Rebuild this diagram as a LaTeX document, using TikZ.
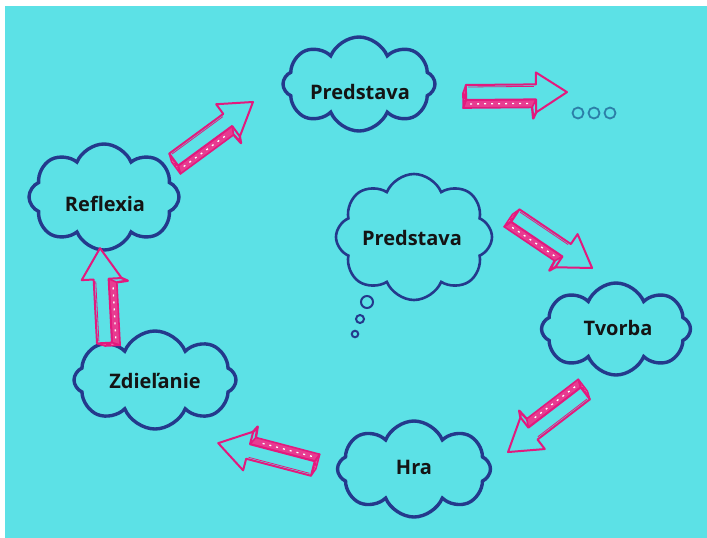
\documentclass[tikz,border=0pt]{standalone}
\usepackage{fontspec}
\setmainfont{Open Sans}
\usetikzlibrary{shapes.symbols}
\definecolor{bg}{HTML}{5CE1E6}
\definecolor{navy}{HTML}{24398C}
\definecolor{mag}{HTML}{E3197E}
\definecolor{dotc}{HTML}{2C7FA8}
\tikzset{
  cl/.style={cloud, cloud puffs=8, cloud puff arc=135, cloud ignores aspect,
    draw=navy, line width=3.4pt, fill=bg, inner sep=0pt},
  txt/.style={font=\fontsize{20}{24}\selectfont\bfseries, text=black!92, inner sep=0pt},
  bubble/.style={circle, draw=navy, line width=2pt, fill=bg, inner sep=0pt},
  odot/.style={circle, draw=dotc, line width=1.8pt, minimum size=11, inner sep=0pt},
  arrface/.style={draw=mag, line width=2pt, fill=bg, line join=round},
  arrband/.style={draw=mag, line width=1.6pt, fill=mag!85, line join=round},
  arrcap/.style={draw=mag, line width=1.6pt, fill=mag!40, line join=round},
}
% tail centre, rotation (canvas degrees), length
\newcommand{\skarrow}[3]{%
  \begin{scope}[shift={#1}, rotate=#2]
    \def\L{#3}
    \draw[arrband] (0,7) -- (\L-31,7) -- (\L-35,15) -- (-3,15) -- cycle;
    \draw[white, line width=1.3pt, dash pattern=on 2pt off 5pt] (4,11) -- (\L-38,11);
    \draw[arrcap] (0,-8) -- (0,7) -- (-3,15) -- (-3,0) -- cycle;
    \draw[mag, line width=0.7pt] (-1,-3) -- (-2,6) (-1,3) -- (-2,12);
    \draw[arrface] (0,-8) -- (\L-31,-8) -- (\L-31,-20) -- (\L,0) -- (\L-31,20) -- (\L-31,7) -- (0,7) -- cycle;
    \draw[mag, line width=2.4pt, line join=round] (\L-31,20) -- (\L-34,26) -- (\L-35,15);
    \draw[mag, line width=0.8pt] (2,-6) -- (\L-33,-6);
  \end{scope}}
\begin{document}
\begin{tikzpicture}[x=1pt, y=-1pt]
  \useasboundingbox (0,0) rectangle (707,538);
  \fill[white] (0,0) rectangle (707,538);
  \fill[bg] (5,6) rectangle (707,538);

  % clouds
  \node[cl, minimum width=152, minimum height=94] (c1) at (359,84) {};
  \node[txt] (t1) at (360,92) {Predstava};
  \node[cl, minimum width=150, minimum height=106] (c2) at (104,197) {};
  \node[txt] (t2) at (105,204) {Reflexia};
  \node[cl, line width=2.6pt, minimum width=156, minimum height=126] (c3) at (414,237) {};
  \node[txt] (t3) at (412,238) {Predstava};
  \node[cl, minimum width=149, minimum height=92] (c4) at (616,329) {};
  \node[txt] (t4) at (618,328) {Tvorba};
  \node[cl, minimum width=153, minimum height=96] (c5) at (414,469) {};
  \node[txt] (t5) at (414,467) {Hra};
  \node[cl, minimum width=162, minimum height=98] (c6) at (155,380) {};
  \node[txt] (t6) at (155,381) {Zdieľanie};

  % thought bubbles
  \node[bubble, minimum size=12] (b1) at (367,302) {};
  \node[bubble, minimum size=8] (b2) at (360,319) {};
  \node[bubble, minimum size=6.5] (b3) at (355,334) {};

  % dots
  \node[odot] (d1) at (578,113) {};
  \node[odot] (d2) at (594,113) {};
  \node[odot] (d3) at (610,113) {};

  % arrows
  \skarrow{(174,160)}{36.3}{98}
  \skarrow{(466,93)}{0.5}{101}
  \skarrow{(515,216)}{-34}{93}
  \skarrow{(585,393)}{-142.5}{97}
  \skarrow{(313,468)}{165.3}{98}
  \skarrow{(105,343)}{93}{95}
\end{tikzpicture}
\end{document}
